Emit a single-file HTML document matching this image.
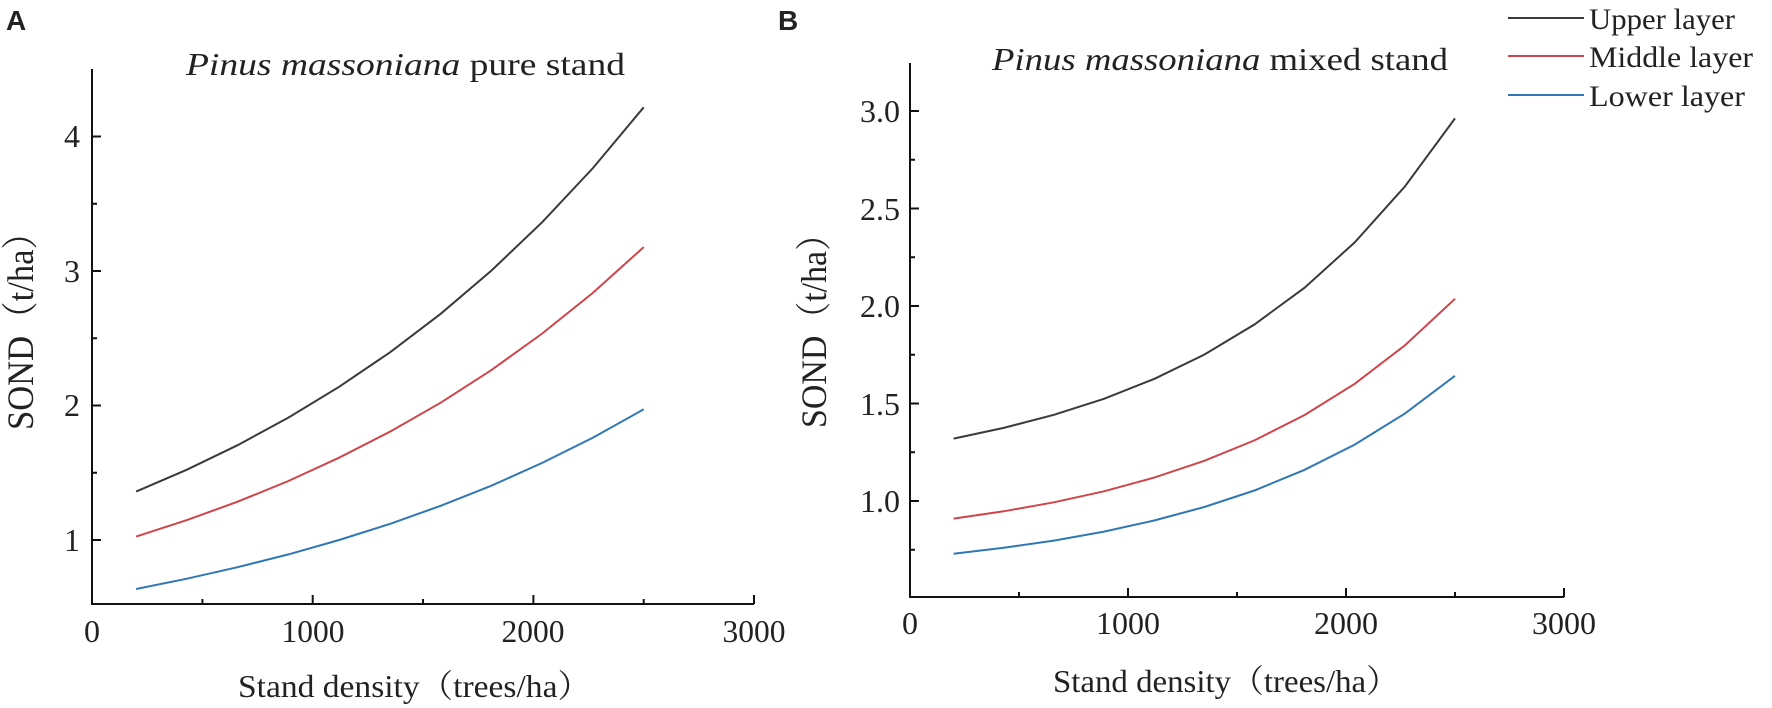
<!DOCTYPE html>
<html><head><meta charset="utf-8"><style>
html,body{margin:0;padding:0;background:#fff;}
svg{display:block;}
text{font-family:"Liberation Serif","Noto Serif CJK SC",serif;fill:#222;}
</style></head><body>
<svg width="1772" height="708" viewBox="0 0 1772 708" xmlns="http://www.w3.org/2000/svg">
<text x="6" y="30" style="font-family:'Liberation Sans',sans-serif;font-weight:bold;font-size:28px" fill="#000">A</text>
<text x="778" y="30" style="font-family:'Liberation Sans',sans-serif;font-weight:bold;font-size:28px" fill="#000">B</text>

<!-- LEFT PANEL -->
<g stroke="#111" stroke-width="2" fill="none">
<path d="M92 69 V604 H754"/>
<path d="M92 540h9M92 405.5h9M92 271h9M92 136.5h9"/>
<path d="M92 472.75h5M92 338.25h5M92 203.75h5"/>
<path d="M312.7 604v-9M533.4 604v-9M754 604v-9M202.4 604v-5M423 604v-5M643.7 604v-5"/>
</g>
<g font-size="32" text-anchor="end">
<text x="80" y="551">1</text><text x="80" y="416">2</text><text x="80" y="282">3</text><text x="80" y="147">4</text>
</g>
<g font-size="32" text-anchor="middle">
<text x="92" y="642">0</text><text x="313" y="642" textLength="63" lengthAdjust="spacingAndGlyphs">1000</text><text x="533" y="642" textLength="63" lengthAdjust="spacingAndGlyphs">2000</text><text x="754" y="642" textLength="63" lengthAdjust="spacingAndGlyphs">3000</text>
</g>
<text x="238" y="697" font-size="32" textLength="353" lengthAdjust="spacingAndGlyphs">Stand density（trees/ha）</text>
<text transform="translate(33,430) rotate(-90)" font-size="37" textLength="215" lengthAdjust="spacingAndGlyphs">SOND（t/ha）</text>
<text x="186" y="75" font-size="32" textLength="439" lengthAdjust="spacingAndGlyphs"><tspan font-style="italic">Pinus massoniana</tspan> pure stand</text>
<g fill="none" stroke-width="2">
<polyline stroke="#3a3a3a" points="136.1,491.6 186.9,469.7 237.6,445.2 288.4,417.6 339.1,386.8 389.9,352.4 440.7,313.8 491.4,270.6 542.2,222.2 593,168 643.7,107.3"/>
<polyline stroke="#d0444b" points="136.1,536.6 186.9,520.1 237.6,501.7 288.4,481 339.1,457.7 389.9,431.7 440.7,402.7 491.4,370.1 542.2,333.5 593,292.8 643.7,247.1"/>
<polyline stroke="#2f78b4" points="136.1,589 186.9,578.7 237.6,567.2 288.4,554.4 339.1,540 389.9,523.9 440.7,505.8 491.4,485.7 542.2,462.9 593,437.6 643.7,409.3"/>
</g>

<!-- RIGHT PANEL -->
<g stroke="#111" stroke-width="2" fill="none">
<path d="M910 63 V597 H1564"/>
<path d="M910 501h9M910 403.5h9M910 306h9M910 208.5h9M910 111h9"/>
<path d="M910 549.75h5M910 452.25h5M910 354.75h5M910 257.25h5M910 159.75h5"/>
<path d="M1128 597v-9M1346 597v-9M1564 597v-9M1019 597v-5M1237 597v-5M1455 597v-5"/>
</g>
<g font-size="32" text-anchor="end">
<text x="900" y="512">1.0</text><text x="900" y="415">1.5</text><text x="900" y="317">2.0</text><text x="900" y="220">2.5</text><text x="900" y="122">3.0</text>
</g>
<g font-size="32" text-anchor="middle">
<text x="910" y="634">0</text><text x="1128" y="634" textLength="64" lengthAdjust="spacingAndGlyphs">1000</text><text x="1346" y="634" textLength="64" lengthAdjust="spacingAndGlyphs">2000</text><text x="1564" y="634" textLength="64" lengthAdjust="spacingAndGlyphs">3000</text>
</g>
<text x="1053" y="692" font-size="32" textLength="346" lengthAdjust="spacingAndGlyphs">Stand density（trees/ha）</text>
<text transform="translate(826,428) rotate(-90)" font-size="36" textLength="211" lengthAdjust="spacingAndGlyphs">SOND（t/ha）</text>
<text x="992" y="70" font-size="32" textLength="456" lengthAdjust="spacingAndGlyphs"><tspan font-style="italic">Pinus massoniana</tspan> mixed stand</text>
<g fill="none" stroke-width="2">
<polyline stroke="#3a3a3a" points="953.6,438.6 1003.7,427.9 1053.9,414.8 1104,398.8 1154.2,378.9 1204.3,354.6 1254.4,324.5 1304.6,287.7 1354.7,242.4 1404.9,186.5 1455,118.4"/>
<polyline stroke="#d0444b" points="953.6,518.6 1003.7,511.3 1053.9,502.3 1104,491.3 1154.2,477.6 1204.3,460.8 1254.4,440.4 1304.6,415 1354.7,383.8 1404.9,345.4 1455,298.8"/>
<polyline stroke="#2f78b4" points="953.6,553.7 1003.7,547.8 1053.9,540.6 1104,531.6 1154.2,520.5 1204.3,507 1254.4,490.5 1304.6,469.8 1354.7,444.6 1404.9,413.6 1455,375.8"/>
</g>

<!-- LEGEND -->
<g stroke-width="2">
<line x1="1508" y1="18" x2="1584" y2="18" stroke="#3a3a3a"/>
<line x1="1508" y1="56" x2="1584" y2="56" stroke="#d0444b"/>
<line x1="1508" y1="95" x2="1584" y2="95" stroke="#2f78b4"/>
</g>
<g font-size="30">
<text x="1589" y="29" textLength="146" lengthAdjust="spacingAndGlyphs">Upper layer</text>
<text x="1589" y="67" textLength="164" lengthAdjust="spacingAndGlyphs">Middle layer</text>
<text x="1589" y="106" textLength="156" lengthAdjust="spacingAndGlyphs">Lower layer</text>
</g>
</svg>
</body></html>
